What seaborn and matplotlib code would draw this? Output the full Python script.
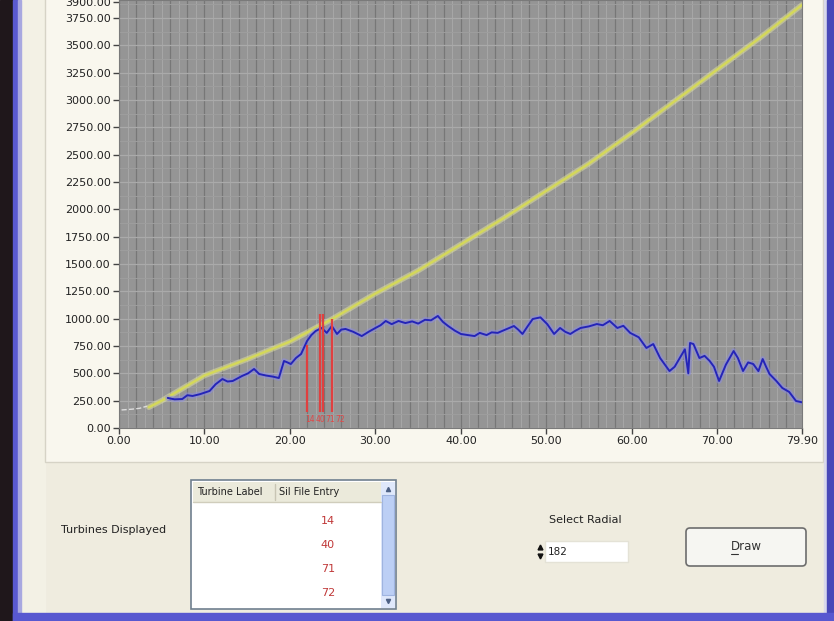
import numpy as np
import matplotlib
matplotlib.use('Agg')
import matplotlib.pyplot as plt
import seaborn as sns
from matplotlib.patches import Rectangle, FancyBboxPatch

# values
yellow_x = [3.5, 5, 10, 15, 20, 25, 30, 35, 40, 45, 50, 55, 60, 65, 70, 75, 79.9]
yellow_y = [190, 250, 480, 630, 790, 1000, 1230, 1440, 1680, 1920, 2170, 2420, 2700, 2990, 3280, 3570, 3870]

blue_x = [5.7, 6.5, 7.4, 8.0, 8.6, 9.5, 10.6, 11.3, 12.1, 12.7, 13.3, 13.9, 14.4, 15.1, 15.8, 16.4,
          17.2, 18.0, 18.7, 19.3, 19.7, 20.1, 20.7, 21.3, 22.0, 22.5, 23.0, 23.7, 24.3, 24.9, 25.5,
          26.0, 26.5, 27.4, 28.4, 29.2, 30.0, 30.6, 31.2, 31.9, 32.7, 33.5, 34.3, 35.0, 35.8, 36.5,
          37.3, 37.9, 38.5, 39.3, 40.0, 40.8, 41.6, 42.2, 43.0, 43.6, 44.3, 45.2, 46.2, 46.7, 47.2,
          47.8, 48.4, 49.3, 50.1, 50.9, 51.6, 52.2, 52.8, 53.4, 54.0, 55.0, 55.9, 56.6, 57.4, 58.3,
          59.0, 59.8, 60.8, 61.7, 62.5, 63.3, 64.4, 65.0, 65.6, 66.2, 66.6, 66.8, 67.2, 67.9, 68.5,
          69.1, 69.6, 70.2, 71.0, 71.9, 72.4, 73.0, 73.6, 74.2, 74.8, 75.3, 75.7, 76.1, 76.9, 77.6,
          78.4, 79.2, 79.9]
blue_y = [275, 262, 265, 300, 293, 310, 339, 400, 448, 425, 430, 455, 476, 500, 540, 494,
          480, 470, 457, 613, 600, 585, 640, 677, 796, 850, 887, 915, 870, 933, 860,
          900, 906, 880, 841, 880, 915, 940, 979, 950, 979, 960, 975, 955, 990, 985,
          1025, 970, 933, 890, 860, 850, 841, 870, 850, 875, 870, 900, 933, 900, 860,
          930, 997, 1012, 950, 860, 915, 880, 860, 890, 915, 930, 951, 940, 979, 915,
          935, 870, 830, 732, 768, 640, 521, 560, 640, 720, 500, 778, 768, 640, 660,
          613, 560, 430, 580, 704, 640, 521, 600, 585, 520, 631, 560, 494, 430, 366,
          330, 247, 235]

start_x = [0.3, 1.5, 2.4, 3.3]
start_y = [165, 172, 180, 200]

marker_x = [22.0, 23.5, 23.9, 24.9]
marker_top = [760, 1040, 1040, 1000]
marker_labels = ['14', '40', '71', '72']

y_ticks = list(range(0, 3751, 250)) + [3900]
x_ticks = [0, 10, 20, 30, 40, 50, 60, 70, 79.9]

list_header = ['Turbine Label', 'Sil File Entry']
list_rows = ['14', '40', '71', '72']
radial_value = '182'

sns.set_theme(style='ticks')
plt.rcParams['font.family'] = ['DejaVu Sans']

W, H = 834, 621
fig = plt.figure(figsize=(W / 100, H / 100), dpi=100)
fig.patch.set_facecolor('#efecdf')

# window chrome, drawn in pixel coordinates
bg = fig.add_axes([0, 0, 1, 1], zorder=0)
bg.set_xlim(0, W)
bg.set_ylim(H, 0)
bg.axis('off')
bg.add_patch(Rectangle((21, 0), 24, H, color='#f3f1e5'))
bg.add_patch(Rectangle((45, -2), 778, 464, fc='#f9f7ee', ec='#d6d3c6', lw=1))
bg.add_patch(Rectangle((0, 0), 13, H, color='#1f171b'))
bg.add_patch(Rectangle((13, 0), 5, H, color='#5a5ad0'))
bg.add_patch(Rectangle((18, 0), 3, H, color='#a8a8e0'))
bg.add_patch(Rectangle((824, 0), 3, H, color='#d8d8ec'))
bg.add_patch(Rectangle((827, 0), 7, H, color='#4848b8'))
bg.add_patch(Rectangle((13, 613), 821, 8, color='#5858d0'))

bg.text(114, 530, 'Turbines Displayed', ha='center', va='center', fontsize=8, color='#222222')

# list box
bg.add_patch(Rectangle((191, 480), 205, 129, fc='white', ec='#6f7f8f', lw=1.2))
bg.add_patch(Rectangle((193, 482), 188, 20, fc='#ebeadb', ec='none'))
bg.plot([193, 381], [502, 502], color='#d0cdbc', lw=1)
bg.plot([275, 275], [484, 500], color='#c8c5b4', lw=1)
bg.text(197, 492, list_header[0], ha='left', va='center', fontsize=7, color='#222222')
bg.text(279, 492, list_header[1], ha='left', va='center', fontsize=7, color='#222222')
bg.add_patch(Rectangle((381, 482), 14, 126, fc='#dfe8fb', ec='none'))
bg.add_patch(Rectangle((382, 495), 12, 100, fc='#bccff5', ec='#9fb4e0', lw=0.8))
bg.plot(388, 489, marker='^', ms=3, color='#4d6185')
bg.plot(388, 601, marker='v', ms=3, color='#4d6185')
for i, r in enumerate(list_rows):
    bg.text(328, 521 + 24 * i, r, ha='center', va='center', fontsize=8, color='#c03838')

# radial selector
bg.text(585, 520, 'Select Radial', ha='center', va='center', fontsize=8, color='#222222')
bg.add_patch(Rectangle((545, 541), 83, 21, fc='white', ec='#e4e2d6', lw=1))
bg.text(548, 552, radial_value, ha='left', va='center', fontsize=7.5, color='#222222')
bg.plot(540, 547, marker='^', ms=3.5, color='#111111')
bg.plot(540, 556, marker='v', ms=3.5, color='#111111')

# draw button
bg.add_patch(FancyBboxPatch((686, 528), 120, 38, boxstyle='round,pad=0,rounding_size=4',
                            fc='#f6f6f2', ec='#6d6d6d', lw=1.2))
bg.text(746, 547, 'Draw', ha='center', va='center', fontsize=8.5, color='#333333')
bg.plot([731, 738], [554, 554], color='#333333', lw=0.8)

# chart
ax = fig.add_axes([119 / W, 1 - 428 / H, (802 - 119) / W, 428 / H], zorder=1)
ax.set_facecolor('#959595')
ax.set_xlim(0, 79.9)
ax.set_ylim(0, 3915)

for v in np.arange(1, 80, 2):
    ax.axvline(v, color='#a6a6a6', lw=0.8, zorder=0)
for v in np.arange(0, 80, 2):
    ax.axvline(v, color='#777777', lw=0.9, zorder=0)
for v in np.arange(125, 3900, 250):
    ax.axhline(v, color='#9e9e9e', lw=0.7, zorder=0)
for v in np.arange(0, 3900, 250):
    ax.axhline(v, color='#aaaaaa', lw=0.9, zorder=0)

sns.lineplot(x=start_x, y=start_y, ax=ax, color='#dddddd', lw=1, linestyle='--', sort=False, estimator=None)
sns.lineplot(x=yellow_x, y=yellow_y, ax=ax, color='#eef0a0', lw=4, alpha=0.45, sort=False, estimator=None)
sns.lineplot(x=yellow_x, y=yellow_y, ax=ax, color='#d4d85a', lw=1.8, sort=False, estimator=None)
sns.lineplot(x=blue_x, y=blue_y, ax=ax, color='#8a8ae8', lw=4, alpha=0.5, sort=False, estimator=None)
sns.lineplot(x=blue_x, y=blue_y, ax=ax, color='#2424b8', lw=1.4, sort=False, estimator=None)

ax.vlines(marker_x, 150, marker_top, colors='#e04040', lw=1.6, zorder=5)
# labels sit side by side under the marker lines
for i, lab in enumerate(marker_labels):
    ax.annotate(lab, xy=(marker_x[0], 80), xytext=(i * 7.2 - 1, 0), textcoords='offset points',
                color='#e04848', fontsize=5.5, ha='left', va='center', zorder=6)

ax.set_xticks(x_ticks)
ax.set_xticklabels([f'{v:.2f}' for v in x_ticks])
ax.set_yticks(y_ticks)
ax.set_yticklabels([f'{v:.2f}' for v in y_ticks])
ax.tick_params(direction='out', length=4, width=1, color='#444444', labelsize=8,
               labelcolor='#222222', pad=2)
ax.grid(False)
for s in ax.spines.values():
    s.set_color('#7a7a7a')
    s.set_linewidth(0.8)
ax.set_xlabel('')
ax.set_ylabel('')

fig.savefig('out.png', dpi=100, facecolor=fig.get_facecolor())
